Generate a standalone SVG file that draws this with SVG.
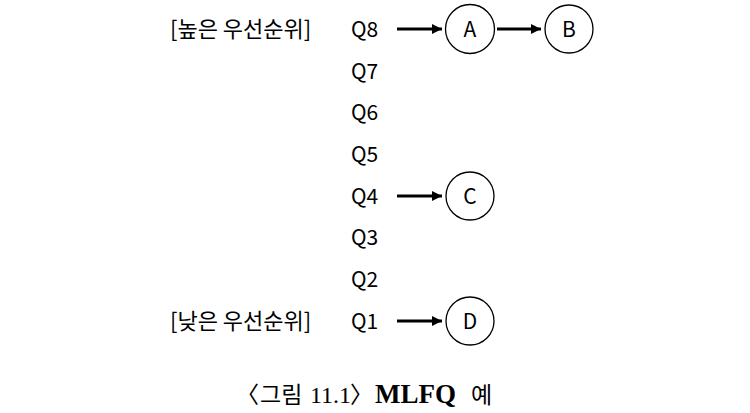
<svg xmlns="http://www.w3.org/2000/svg" width="750" height="413" viewBox="0 0 750 413">
<defs>
<marker id="ah" viewBox="0 0 10 10" refX="10" refY="5" markerWidth="10" markerHeight="10" markerUnits="userSpaceOnUse" orient="auto">
<path d="M0,0 L10,5 L0,10 Z" fill="#000"/>
</marker>
<style>
.l{font-family:"Noto Sans CJK KR","Liberation Sans",sans-serif;font-size:22px;fill:#000}
.t{font-family:"Noto Sans CJK KR","Liberation Sans",sans-serif;font-size:21px;fill:#000}
.n{fill:#fff;stroke:#000;stroke-width:1.3}
.c{font-family:"Noto Sans CJK KR","Liberation Sans",sans-serif;font-size:21px;fill:#000;text-anchor:middle}
.e{stroke:#000;stroke-width:3;fill:none;marker-end:url(#ah)}
.cap{font-family:"Liberation Serif","Noto Sans CJK KR",serif;font-size:27px;fill:#000}
.h{font-family:"Noto Sans CJK KR",sans-serif;font-size:23px}
</style>
</defs>
<rect width="750" height="413" fill="#fff"/>
<g id="labels">
<text class="l" x="170" y="37">[높은 우선순위]</text>
<text class="l" x="170" y="329">[낮은 우선순위]</text>
</g>
<g id="queues">
<text class="t" x="351" y="37">Q8</text>
<text class="t" x="351" y="79">Q7</text>
<text class="t" x="351" y="120">Q6</text>
<text class="t" x="351" y="162">Q5</text>
<text class="t" x="351" y="204">Q4</text>
<text class="t" x="351" y="245">Q3</text>
<text class="t" x="351" y="287">Q2</text>
<text class="t" x="351" y="329">Q1</text>
</g>
<g id="connectors">
<line class="e" x1="397" y1="29" x2="442" y2="29"/>
<line class="e" x1="497" y1="29" x2="541" y2="29"/>
<line class="e" x1="397" y1="196" x2="442" y2="196"/>
<line class="e" x1="397" y1="321" x2="442" y2="321"/>
</g>
<g id="A"><circle class="n" cx="470" cy="29" r="24.5"/><text class="c" x="470" y="37">A</text></g>
<g id="B"><circle class="n" cx="569" cy="29" r="24"/><text class="c" x="569" y="37">B</text></g>
<g id="C"><circle class="n" cx="470" cy="196" r="24"/><text class="c" x="470" y="204">C</text></g>
<g id="D"><circle class="n" cx="470" cy="321" r="24"/><text class="c" x="470" y="329">D</text></g>
<text class="cap" y="403"><tspan class="h" x="236">〈</tspan><tspan class="h" x="260">그림</tspan><tspan x="310" font-size="24">11.1</tspan><tspan class="h" x="350">〉</tspan><tspan x="375" font-weight="bold">MLFQ</tspan><tspan class="h" x="471">예</tspan></text>
</svg>
